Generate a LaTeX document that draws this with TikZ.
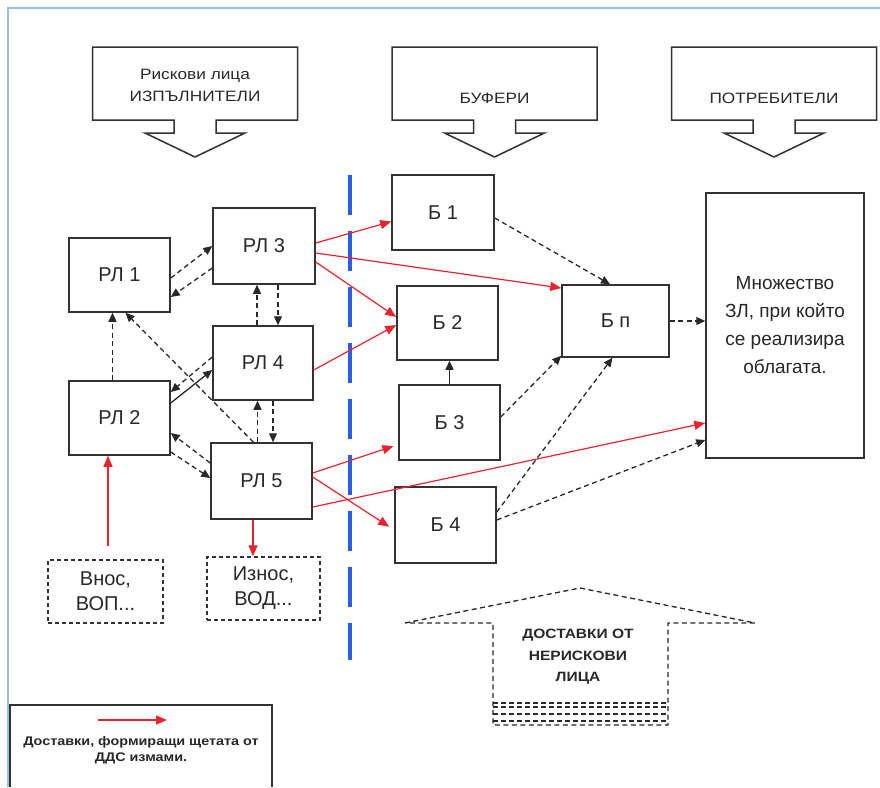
\documentclass[tikz,border=0pt]{standalone}
\usepackage{fontspec}
\setmainfont{Liberation Sans}
\newfontfamily\widefont{Liberation Sans}[FakeStretch=1.15]
\usetikzlibrary{arrows.meta}
\definecolor{boxc}{RGB}{50,50,50}
\definecolor{txtc}{RGB}{40,40,40}
\definecolor{redc}{RGB}{232,35,45}
\definecolor{bluec}{RGB}{40,95,230}
\definecolor{framec}{RGB}{150,190,235}
\definecolor{dashc}{RGB}{40,40,40}
\begin{document}
\begin{tikzpicture}[x=1pt,y=-1pt,
  box/.style={draw=boxc, line width=1.5pt, fill=white, text=txtc, font=\fontsize{20}{24}\selectfont, inner sep=0pt},
  dbox/.style={draw=boxc, line width=1.3pt, dash pattern=on 4pt off 3pt, fill=white, text=txtc, align=center, font=\fontsize{20}{25}\selectfont, inner sep=0pt},
  darr/.style={draw=dashc, line width=1.3pt, dash pattern=on 5pt off 3.5pt, -{Triangle[length=9pt,width=8pt]}},
  sarr/.style={draw=dashc, line width=1.3pt, -{Triangle[length=9pt,width=8pt]}},
  rarr/.style={draw=redc, line width=1.2pt, -{Triangle[length=11pt,width=9pt]}},
  callout/.style={draw=boxc, line width=1.5pt, fill=white},
  ctext/.style={text=txtc, align=center, font=\widefont\fontsize{15}{22}\selectfont},
  ltext/.style={text=txtc, align=center, font=\widefont\bfseries\fontsize{12.5}{16}\selectfont}
]
\useasboundingbox (0,0) rectangle (880,787);
\fill[white] (0,0) rectangle (880,787);
% light blue frame
\draw[framec, line width=1.5pt] (8,787) -- (8,8) -- (880,8);

% header callouts
\foreach \cx/\nm in {195/cl, 494.5/cm, 774/cr}{
  \draw[callout] (\cx-102.5,47) -- (\cx+102.5,47) -- (\cx+102.5,120) -- (\cx+21,120) -- (\cx+21,133) -- (\cx+50,133) -- (\cx,157) -- (\cx-50,133) -- (\cx-21,133) -- (\cx-21,120) -- (\cx-102.5,120) -- cycle;
}
\node[ctext] (hl) at (195,85) {Рискови лица\\ИЗПЪЛНИТЕЛИ};
\node[ctext] (hm) at (494.5,98) {БУФЕРИ};
\node[ctext] (hr) at (774,98) {ПОТРЕБИТЕЛИ};

% blue dashed divider
\draw[bluec, line width=4pt, dash pattern=on 40pt off 16pt] (350,175) -- (350,660);

% risk persons
\node[box, minimum width=101pt, minimum height=74pt] (RL1) at (119.5,275) {РЛ 1};
\node[box, minimum width=102pt, minimum height=76pt] (RL3) at (264,246) {РЛ 3};
\node[box, minimum width=100pt, minimum height=74pt] (RL4) at (263,363) {РЛ 4};
\node[box, minimum width=101pt, minimum height=74pt] (RL2) at (119.5,418) {РЛ 2};
\node[box, minimum width=101pt, minimum height=76pt] (RL5) at (261.5,481) {РЛ 5};
\node[dbox, minimum width=115pt, minimum height=63pt] (Vnos) at (105.5,591.5) {Внос,\\ВОП...};
\node[dbox, minimum width=113pt, minimum height=63pt] (Iznos) at (263.5,588.5) {Износ,\\ВОД...};

% buffers
\node[box, minimum width=102pt, minimum height=75pt] (B1) at (443,212.5) {Б 1};
\node[box, minimum width=101pt, minimum height=74pt] (B2) at (447.5,323) {Б 2};
\node[box, minimum width=101pt, minimum height=75pt] (B3) at (449.5,422.5) {Б 3};
\node[box, minimum width=101pt, minimum height=76pt] (B4) at (445.5,525) {Б 4};
\node[box, minimum width=107pt, minimum height=72pt] (Bn) at (615.5,321) {Б п};
\node[box, minimum width=158pt, minimum height=265pt, align=center, font=\fontsize{19}{28}\selectfont] (Mn) at (785,325.5) {Множество\\ЗЛ, при който\\се реализира\\облагата.};

% dashed links among risk persons
\draw[darr] ([yshift=-3pt]RL1.east) -- (RL3.west);
\draw[darr] ([yshift=-22pt]RL3.west) -- ([yshift=-22pt]RL1.east);
\draw[darr] ([xshift=-6pt]RL4.north) -- ([xshift=-6pt]RL4.north |- RL3.south);
\draw[darr] ([xshift=14pt]RL3.south) -- ([xshift=14pt]RL3.south |- RL4.north);
\draw[darr] ([xshift=-4pt]RL5.north) -- ([xshift=-4pt]RL5.north |- RL4.south);
\draw[darr] ([xshift=10pt]RL4.south) -- ([xshift=10pt]RL4.south |- RL5.north);
\draw[darr] ([xshift=-7pt]RL2.north) -- ([xshift=-7pt]RL2.north |- RL1.south);
\draw[darr] ([xshift=-8pt]RL5.north) -- ([xshift=6pt]RL1.south);
\draw[darr] ([yshift=6pt]RL4.west) -- ([yshift=26pt]RL2.east);
\draw[sarr] ([yshift=15pt]RL2.east) -- ([yshift=-7pt]RL4.west);
\draw[darr] ([yshift=18pt]RL5.west) -- ([yshift=-15pt]RL2.east);
\draw[darr] ([yshift=-34pt]RL2.east) -- ([yshift=3pt]RL5.west);

% red deliveries
\coordinate (vn) at ([xshift=2.5pt,yshift=13pt]Vnos.north);
\draw[rarr] (vn) -- (vn |- RL2.south);
\draw[rarr] ([xshift=-8.5pt]RL5.south) -- ([xshift=-8.5pt]RL5.south |- Iznos.north);
\draw[rarr] ([yshift=3pt]RL3.east) -- ([yshift=-9pt]B1.west);
\draw[rarr] ([yshift=-7pt]RL3.east) -- ([yshift=33pt]Bn.west);
\draw[rarr] ([yshift=-16pt]RL3.east) -- ([yshift=6pt]B2.west);
\draw[rarr] ([yshift=-7pt]RL4.east) -- ([yshift=-2pt]B2.west);
\draw[rarr, shorten >=5pt] ([yshift=8pt]RL5.east) -- ([yshift=-22pt]B3.west);
\draw[rarr, shorten >=6pt] ([yshift=4pt]RL5.east) -- ([yshift=-5pt]B4.west);
\draw[rarr] ([yshift=-26pt]RL5.east) -- ([yshift=-97.5pt]Mn.west);

% buffer links
\draw[darr] ([yshift=-5.5pt]B1.east) -- ([xshift=-5.5pt]Bn.north);
\draw[sarr] (B3.north) -- (B3.north |- B2.south);
\draw[darr] ([yshift=5.5pt]B3.east) -- ([yshift=2pt]Bn.south west);
\draw[darr] ([yshift=13pt]B4.east) -- ([xshift=-3pt]Bn.south);
\draw[darr] ([yshift=5pt]B4.east) -- ([yshift=-114.5pt]Mn.west);
\draw[darr] (Bn.east) -- (Bn.east -| Mn.west);

% non-risk deliveries (dashed up arrow)
\draw[draw=dashc, line width=1.3pt, dash pattern=on 5pt off 3.5pt]
  (405,623) -- (580,588) -- (755,623) -- (668,623) -- (668,725) -- (493,725) -- (493,623) -- cycle;
\foreach \yy in {703,707,714,721}{
  \draw[draw=dashc, line width=1.1pt, dash pattern=on 5pt off 3pt] (493,\yy) -- (668,\yy);
}
\node[ltext, font=\widefont\bfseries\fontsize{13.5}{21.5}\selectfont] (nr) at (578,657) {ДОСТАВКИ ОТ\\НЕРИСКОВИ\\ЛИЦА};

% legend
\draw[draw=boxc, line width=1.5pt] (10,787) -- (10,705) -- (272,705) -- (272,787);
\coordinate (lg1) at (98,720);
\coordinate (lg2) at (167,720);
\draw[rarr] (lg1) -- (lg2);
\node[ltext] (lgt) at (141,750) {Доставки, формиращи щетата от\\ДДС измами.};
\end{tikzpicture}
\end{document}
